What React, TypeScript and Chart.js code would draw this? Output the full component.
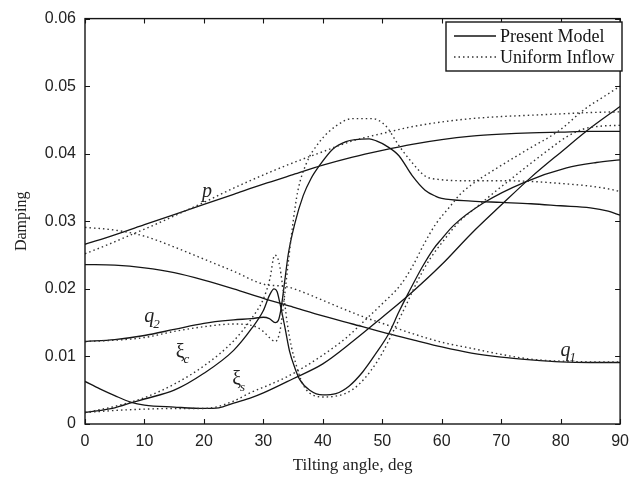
import React, { useEffect, useRef } from "react";
import { Chart, registerables } from "chart.js";

Chart.register(...registerables);

// Tilting angle (deg) / damping pairs
const pPresent: [number, number][] = [
  [0, 0.0266], [5, 0.028], [10, 0.0295], [15, 0.031], [20, 0.0325], [25, 0.034], [30, 0.0355],
  [35, 0.0369], [40, 0.0383], [45, 0.0395], [50, 0.0405], [55, 0.0414], [60, 0.0421], [65, 0.0426],
  [70, 0.0429], [75, 0.0431], [80, 0.0432], [85, 0.0433], [90, 0.0433],
];
const pUniform: [number, number][] = [
  [0, 0.0252], [4, 0.0266], [8, 0.0281], [12, 0.0296], [16, 0.0312], [20, 0.0328], [24, 0.0345],
  [28, 0.0361], [32, 0.0376], [36, 0.039], [40, 0.0403], [45, 0.0419], [50, 0.043], [55, 0.044],
  [60, 0.0447], [65, 0.0452], [70, 0.0455], [75, 0.0457], [80, 0.0459], [85, 0.0461], [90, 0.0462],
];
const q1Present: [number, number][] = [
  [0, 0.0236], [5, 0.0235], [10, 0.0231], [15, 0.0224], [20, 0.0213], [25, 0.02], [30, 0.0186],
  [35, 0.0173], [40, 0.016], [45, 0.0148], [50, 0.0136], [55, 0.0125], [60, 0.0114], [65, 0.0105],
  [70, 0.0099], [75, 0.0095], [80, 0.0092], [85, 0.0091], [90, 0.0091],
];
const q1Uniform: [number, number][] = [
  [0, 0.0291], [5, 0.0287], [10, 0.0278], [15, 0.0262], [20, 0.0244], [25, 0.0226], [30, 0.0207],
  [34, 0.0203], [37, 0.0194], [40, 0.0183], [43, 0.0172], [47, 0.0158], [50, 0.0149], [55, 0.0134],
  [60, 0.0121], [65, 0.0112], [70, 0.0103], [75, 0.0096], [80, 0.0093], [85, 0.0092], [90, 0.0092],
];
const q2Present: [number, number][] = [
  [0, 0.0122], [5, 0.0125], [10, 0.0131], [15, 0.014], [20, 0.0149], [25, 0.0154], [28, 0.0156],
  [30, 0.0158], [31, 0.0156], [32, 0.015], [32.5, 0.0153], [33, 0.0172], [33.6, 0.0212],
  [34.2, 0.0252], [35.3, 0.0297], [36.7, 0.0338], [38, 0.0363], [39.4, 0.0382], [41.7, 0.0407],
  [43.9, 0.0418], [45.5, 0.0421], [47.8, 0.0422], [49, 0.0419], [50.6, 0.0412], [52.8, 0.0397],
  [55, 0.0368], [57.2, 0.0346], [59, 0.0337], [60, 0.0334], [65, 0.033], [70, 0.0328],
  [75, 0.0326], [80, 0.0323], [85, 0.032], [88, 0.0315], [90, 0.0309],
];
const q2Uniform: [number, number][] = [
  [0, 0.0122], [5, 0.0124], [10, 0.0128], [15, 0.0137], [20, 0.0144], [25, 0.0148], [28, 0.0146],
  [30, 0.0137], [31, 0.0128], [32, 0.0122], [32.8, 0.0138], [33.5, 0.0185], [34.2, 0.024],
  [35, 0.0299], [35.8, 0.0345], [37.2, 0.0385], [39.4, 0.0417], [42.2, 0.0441], [45, 0.0452],
  [48.3, 0.0452], [50.6, 0.0441], [52.8, 0.0412], [55, 0.0387], [57.2, 0.0367], [59.4, 0.0362],
  [65, 0.036], [70, 0.036], [75, 0.0359], [80, 0.0356], [85, 0.0352], [88.6, 0.0347], [90, 0.0344],
];
const xiCPresent: [number, number][] = [
  [0, 0.0017], [5, 0.0024], [8, 0.0032], [10, 0.0037], [15, 0.005], [20, 0.0075], [25, 0.0109],
  [28, 0.0141], [30, 0.0168], [31, 0.019], [31.8, 0.02], [32.3, 0.0196], [32.8, 0.0178],
  [33.6, 0.0144], [34.4, 0.0108], [35.3, 0.0083], [36.1, 0.0066], [37.8, 0.005], [40, 0.0043],
  [42.2, 0.0045], [44.4, 0.0056], [46.7, 0.0077], [48.9, 0.0104], [51.1, 0.0134], [52.8, 0.0166],
  [54.4, 0.0194], [56.7, 0.0232], [58.6, 0.0259], [60, 0.0274], [62, 0.0294], [67, 0.0327],
  [74, 0.0358], [81, 0.0379], [86, 0.0387], [90, 0.0391],
];
const xiCUniform: [number, number][] = [
  [0, 0.0017], [5, 0.0026], [10, 0.0039], [15, 0.0059], [20, 0.0086], [25, 0.0123], [28, 0.0156],
  [30, 0.0185], [31.1, 0.0215], [31.9, 0.025], [32.6, 0.024], [33.3, 0.02], [34, 0.015],
  [34.7, 0.0115], [35.5, 0.0088], [36.3, 0.0066], [37.2, 0.0051], [38.3, 0.0043], [40, 0.004],
  [42, 0.0041], [44, 0.0046], [46, 0.0058], [48, 0.0078], [50, 0.0105], [52, 0.014], [54, 0.0176],
  [56, 0.0213], [58, 0.0244], [60, 0.0268], [63, 0.03], [66, 0.0322], [69, 0.0344], [72, 0.0365],
  [75, 0.0386], [78, 0.0406], [81, 0.0425], [84, 0.0437], [87, 0.0441], [90, 0.0442],
];
const xiSPresent: [number, number][] = [
  [0, 0.0063], [2.5, 0.0052], [5, 0.0042], [7.8, 0.0032], [10, 0.0028], [15, 0.0025], [20, 0.0023],
  [22.5, 0.0024], [25, 0.0031], [28, 0.0039], [30, 0.0046], [35, 0.0067], [40, 0.0089],
  [45, 0.0122], [50, 0.0158], [55, 0.0195], [60, 0.0236], [65, 0.0282], [70, 0.0324], [75, 0.0365],
  [80, 0.0402], [85, 0.0438], [90, 0.047],
];
const xiSUniform: [number, number][] = [
  [0, 0.0017], [5, 0.002], [10, 0.0022], [15, 0.0023], [20, 0.0023], [22, 0.0025], [25, 0.0034],
  [28, 0.0047], [31, 0.0058], [34, 0.007], [37, 0.0085], [40, 0.0102], [44, 0.0128], [47.5, 0.0157],
  [50, 0.0178], [53, 0.0205], [55, 0.0232], [57, 0.0266], [59, 0.0296], [61.4, 0.0322],
  [63.1, 0.034], [65.3, 0.0356], [68.6, 0.0375], [74.2, 0.0405], [79.7, 0.0434], [84.2, 0.0467],
  [87, 0.0483], [90, 0.05],
];

const xTicks = [0, 10, 20, 30, 40, 50, 60, 70, 80, 90];
const yTicks = [0, 0.01, 0.02, 0.03, 0.04, 0.05, 0.06];
const yTickLabels = ["0", "0.01", "0.02", "0.03", "0.04", "0.05", "0.06"];
const legendLabels = ["Present Model", "Uniform Inflow"];
const xTitle = "Tilting angle, deg";
const yTitle = "Damping";

// curve name annotations: main glyph, subscript, anchor (angle, damping)
const curveNotes = [
  { main: "p", sub: "", mainItalic: true, at: [20.5, 0.0343] },
  { main: "q", sub: "2", mainItalic: true, at: [10.8, 0.0158] },
  { main: "ξ", sub: "c", mainItalic: false, at: [16.0, 0.0106] },
  { main: "ξ", sub: "s", mainItalic: false, at: [25.5, 0.0065] },
  { main: "q", sub: "1", mainItalic: true, at: [80.8, 0.0109] },
];

const SERIF = '"Liberation Serif", "Times New Roman", serif';
const SANS = '"Liberation Sans", Arial, Helvetica, sans-serif';
const INK = "#151515";
const DOT = "#333333";
const DASH = [1.5, 3];

const toPts = (arr: [number, number][]) => arr.map(([x, y]) => ({ x, y }));

const solid = (data: [number, number][]) => ({
  data: toPts(data),
  borderColor: INK,
  borderWidth: 1.3,
  pointRadius: 0,
  fill: false,
  cubicInterpolationMode: "monotone" as const,
});
const dotted = (data: [number, number][]) => ({
  data: toPts(data),
  borderColor: DOT,
  borderWidth: 1.4,
  borderDash: DASH,
  pointRadius: 0,
  fill: false,
  cubicInterpolationMode: "monotone" as const,
});

const decorPlugin = {
  id: "decor",
  afterDatasetsDraw(chart: any) {
    const { ctx, chartArea, scales } = chart;
    const { left, right, top, bottom } = chartArea;
    const xs = scales.x;
    const ys = scales.y;
    ctx.save();
    // box
    ctx.strokeStyle = INK;
    ctx.lineWidth = 1.4;
    ctx.setLineDash([]);
    ctx.strokeRect(left, top, right - left, bottom - top);
    // inward ticks
    ctx.lineWidth = 1.1;
    const tl = 5;
    xTicks.forEach((v) => {
      const px = Math.round(xs.getPixelForValue(v)) + 0.5;
      ctx.beginPath();
      ctx.moveTo(px, bottom);
      ctx.lineTo(px, bottom - tl);
      ctx.moveTo(px, top);
      ctx.lineTo(px, top + tl);
      ctx.stroke();
    });
    yTicks.forEach((v) => {
      const py = Math.round(ys.getPixelForValue(v)) + 0.5;
      ctx.beginPath();
      ctx.moveTo(left, py);
      ctx.lineTo(left + tl, py);
      ctx.moveTo(right, py);
      ctx.lineTo(right - tl, py);
      ctx.stroke();
    });

    // curve annotations
    ctx.fillStyle = "#222";
    ctx.textBaseline = "middle";
    curveNotes.forEach((n) => {
      const px = xs.getPixelForValue(n.at[0]);
      const py = ys.getPixelForValue(n.at[1]);
      ctx.font = `${n.mainItalic ? "italic " : ""}20px ${SERIF}`;
      ctx.textAlign = "center";
      ctx.fillText(n.main, px, py);
      if (n.sub) {
        const w = ctx.measureText(n.main).width;
        ctx.font = `italic 13px ${SERIF}`;
        ctx.textAlign = "left";
        ctx.fillText(n.sub, px + w / 2 - 1, py + 7);
      }
    });

    // legend
    const lx = 446, ly = 22, lw = 176, lh = 49;
    ctx.fillStyle = "#fff";
    ctx.fillRect(lx, ly, lw, lh);
    ctx.strokeStyle = INK;
    ctx.lineWidth = 1.4;
    ctx.strokeRect(lx, ly, lw, lh);
    const rows = [36, 57];
    ctx.lineWidth = 1.3;
    ctx.beginPath();
    ctx.moveTo(454, rows[0]);
    ctx.lineTo(496, rows[0]);
    ctx.stroke();
    ctx.strokeStyle = DOT;
    ctx.setLineDash(DASH);
    ctx.beginPath();
    ctx.moveTo(454, rows[1]);
    ctx.lineTo(496, rows[1]);
    ctx.stroke();
    ctx.setLineDash([]);
    ctx.fillStyle = "#151515";
    ctx.font = `18px ${SERIF}`;
    ctx.textAlign = "left";
    ctx.textBaseline = "middle";
    legendLabels.forEach((t, i) => ctx.fillText(t, 500, rows[i] + 1));

    // axis titles
    ctx.fillStyle = "#222";
    ctx.font = `17px ${SERIF}`;
    ctx.textAlign = "center";
    ctx.fillText(xTitle, (left + right) / 2, 466);
    ctx.font = `16px ${SERIF}`;
    ctx.save();
    ctx.translate(22, (top + bottom) / 2);
    ctx.rotate(-Math.PI / 2);
    ctx.fillText(yTitle, 0, 0);
    ctx.restore();
    ctx.restore();
  },
};

export default function App() {
  const ref = useRef<HTMLCanvasElement | null>(null);
  useEffect(() => {
    if (!ref.current) return;
    const chart = new Chart(ref.current, {
      type: "line",
      data: {
        datasets: [
          dotted(pUniform),
          dotted(q1Uniform),
          dotted(q2Uniform),
          dotted(xiCUniform),
          dotted(xiSUniform),
          solid(pPresent),
          solid(q1Present),
          solid(q2Present),
          solid(xiCPresent),
          solid(xiSPresent),
        ] as any,
      },
      options: {
        responsive: false,
        animation: false,
        layout: { padding: { top: 18, right: 12, left: 0, bottom: 0 } },
        plugins: { legend: { display: false }, tooltip: { enabled: false } },
        scales: {
          x: {
            type: "linear",
            min: 0,
            max: 90,
            afterBuildTicks: (s: any) => {
              s.ticks = xTicks.map((v) => ({ value: v }));
            },
            ticks: {
              padding: 8,
              maxRotation: 0,
              color: "#222",
              font: { family: SANS, size: 16 },
              callback: (v: any) => String(v),
            },
            grid: { display: false, drawTicks: false },
            border: { display: false },
            afterFit: (s: any) => {
              s.height = 55;
            },
          },
          y: {
            type: "linear",
            min: 0,
            max: 0.06,
            afterBuildTicks: (s: any) => {
              s.ticks = yTicks.map((v) => ({ value: v }));
            },
            ticks: {
              padding: 9,
              color: "#222",
              font: { family: SANS, size: 16 },
              callback: (v: any) => yTickLabels[yTicks.findIndex((t) => Math.abs(t - v) < 1e-9)] ?? "",
            },
            grid: { display: false, drawTicks: false },
            border: { display: false },
            afterFit: (s: any) => {
              s.width = 85;
            },
          },
        },
      },
      plugins: [decorPlugin],
    });
    return () => chart.destroy();
  }, []);
  return (
    <div style={{ position: "absolute", left: 0, top: 0, width: 637, height: 479, background: "#fff" }}>
      <canvas ref={ref} width={637} height={479} />
    </div>
  );
}
